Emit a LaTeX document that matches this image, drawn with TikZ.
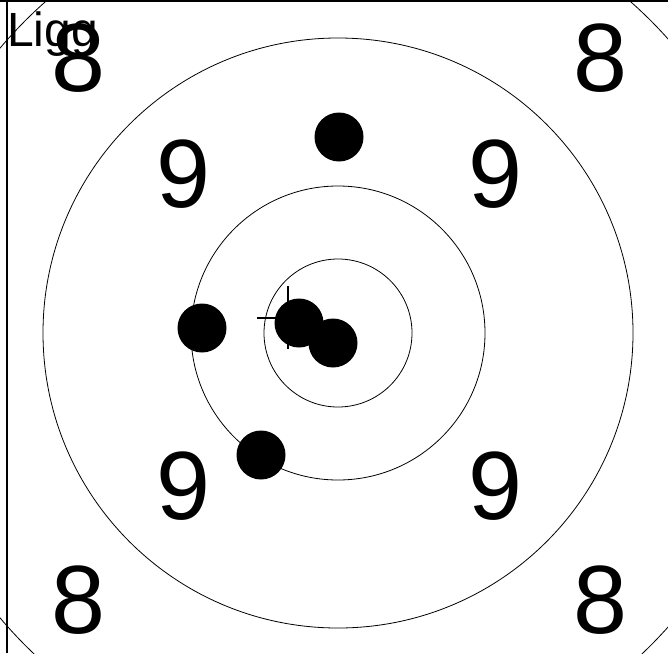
\documentclass[tikz,border=0pt]{standalone}
\usepackage{fontspec}
\setmainfont{Liberation Sans}
\begin{document}
\begin{tikzpicture}[x=1pt,y=-1pt,
  ring/.style={draw=black,line width=0.8pt},
  shot/.style={circle,fill=black,inner sep=0pt,minimum size=49pt},
  score/.style={inner sep=0pt,font=\fontsize{97}{97}\selectfont},
  border/.style={draw=black,line width=1.2pt}]
\useasboundingbox (0,0) rectangle (668,653);
\begin{scope}
\clip (0,0) rectangle (668,653);
\coordinate (c) at (338,333);
\draw[ring] (c) circle[radius=442];
\draw[ring] (c) circle[radius=295];
\draw[ring] (c) circle[radius=147];
\draw[ring] (c) circle[radius=74];
\end{scope}
% border lines
\coordinate (tl) at (0,1);
\coordinate (tr) at (668,1);
\coordinate (lt) at (7,0);
\coordinate (lb) at (7,653);
\draw[border] (tl) -- (tr);
\draw[border] (lt) -- (lb);
\coordinate (t1a) at (78,0); \coordinate (t1b) at (78,1.5);
\coordinate (t2a) at (598,0); \coordinate (t2b) at (598,1.5);
\draw[line width=0.8pt] (t1a) -- (t1b);
\draw[line width=0.8pt] (t2a) -- (t2b);
\fill[black] (220,0) rectangle (245,1.8);
% scores
\node[score] (e1) at (78,58) {8};
\node[score] (e2) at (600,58) {8};
\node[score] (e3) at (78,600) {8};
\node[score] (e4) at (600,600) {8};
\node[score] (n1) at (183,174) {9};
\node[score] (n2) at (495,174) {9};
\node[score] (n3) at (183,486) {9};
\node[score] (n4) at (495,486) {9};
\node[anchor=base west,inner sep=0pt,font=\fontsize{48}{48}\selectfont] (lab) at (7,46) {Ligg};
% crosshair
\coordinate (hx1) at (257,318); \coordinate (hx2) at (319,318);
\coordinate (vy1) at (288,286); \coordinate (vy2) at (288,349);
\draw[line width=2.5pt] (hx1) -- (hx2);
\draw[line width=2.5pt] (vy1) -- (vy2);
% shots
\node[shot] (s1) at (339,137) {};
\node[shot] (s2) at (202,328) {};
\node[shot] (s3) at (299,323) {};
\node[shot] (s4) at (333,343) {};
\node[shot] (s5) at (261,455) {};
\end{tikzpicture}
\end{document}
